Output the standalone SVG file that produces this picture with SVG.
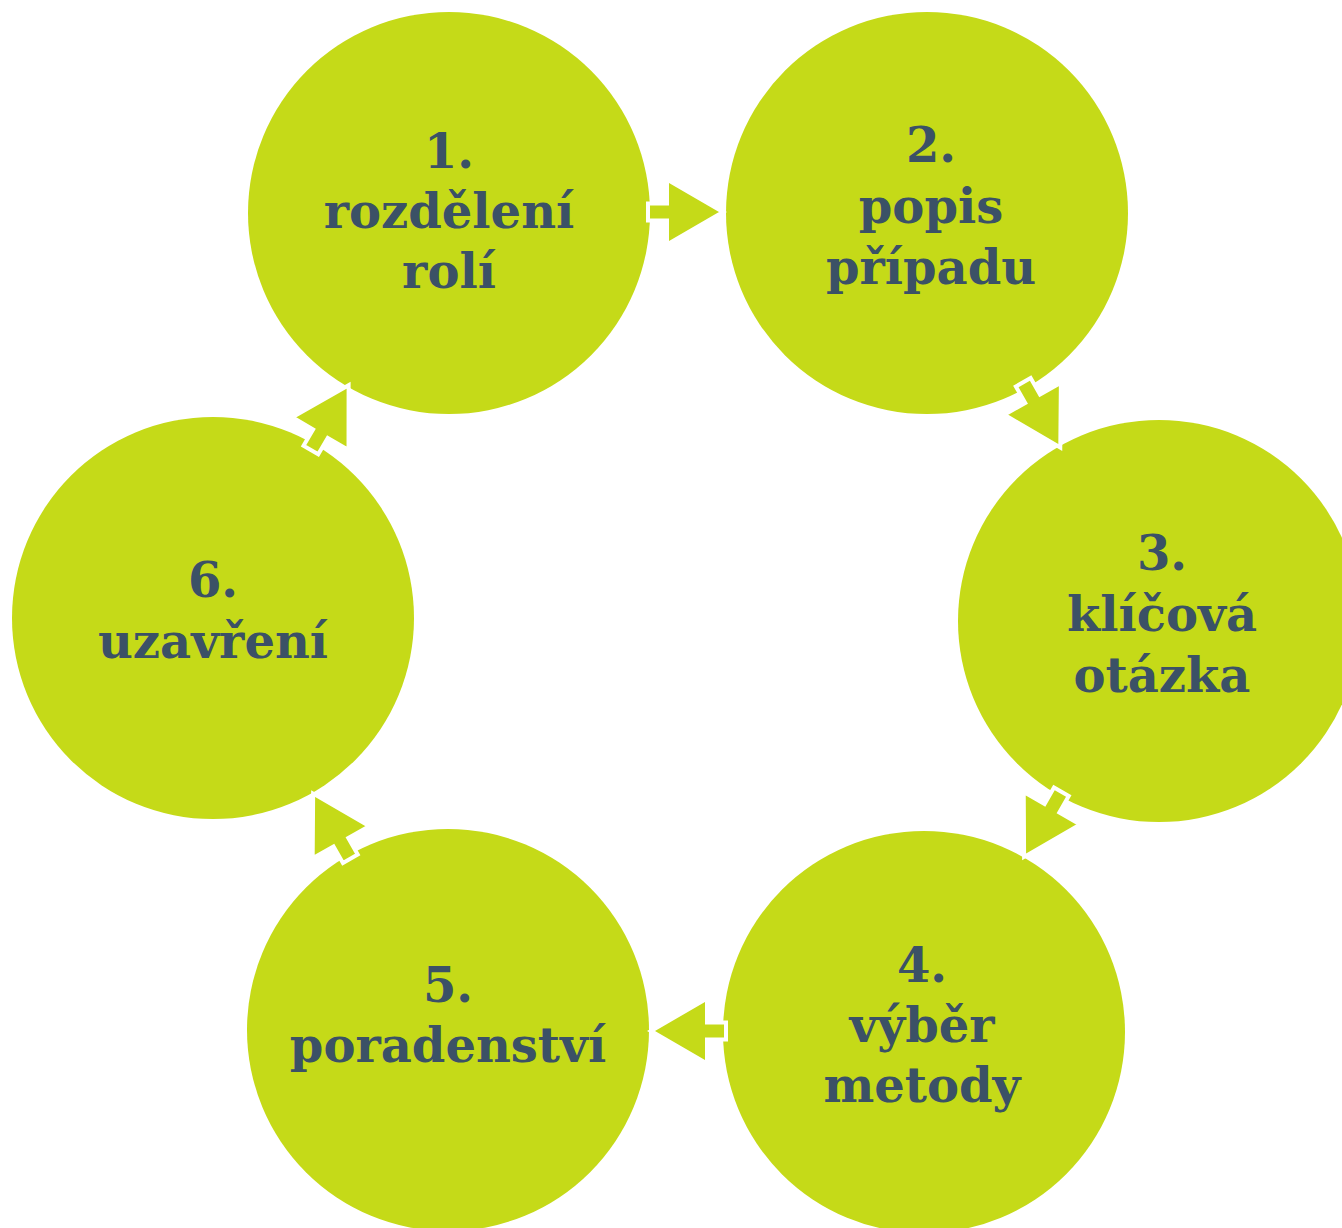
<svg xmlns="http://www.w3.org/2000/svg" width="1342" height="1228" viewBox="0 0 1342 1228">
<defs>
<style>
.c{fill:#c5da18}
.t{font-family:"DejaVu Serif",serif;font-weight:bold;font-size:48px;fill:#3b5166;text-anchor:middle}
.a{fill:#c5da18;stroke:#ffffff;stroke-width:4;stroke-linejoin:miter}
</style>
<path id="arr" d="M-40,-8.5 L-21,-8.5 L-21,-32.5 L35,0 L-21,32.5 L-21,8.5 L-40,8.5 Z"/>
</defs>
<rect width="1342" height="1228" fill="#ffffff"/>
<g id="node1"><circle class="c" cx="449" cy="213" r="201"/>
<text class="t" x="449" y="168">1.</text><text class="t" x="449" y="228">rozdělení</text><text class="t" x="449" y="288">rolí</text></g>
<g id="node2"><circle class="c" cx="927" cy="213" r="201"/>
<text class="t" x="931" y="162">2.</text><text class="t" x="931" y="223">popis</text><text class="t" x="931" y="284">případu</text></g>
<g id="node3"><circle class="c" cx="1159" cy="621" r="201"/>
<text class="t" x="1162" y="570">3.</text><text class="t" x="1162" y="631">klíčová</text><text class="t" x="1162" y="692">otázka</text></g>
<g id="node4"><circle class="c" cx="924" cy="1032" r="201"/>
<text class="t" x="922" y="982">4.</text><text class="t" x="922" y="1042">výběr</text><text class="t" x="922" y="1102">metody</text></g>
<g id="node5"><circle class="c" cx="448" cy="1030" r="201"/>
<text class="t" x="448" y="1002">5.</text><text class="t" x="448" y="1062">poradenství</text></g>
<g id="node6"><circle class="c" cx="213" cy="618" r="201"/>
<text class="t" x="213" y="597">6.</text><text class="t" x="213" y="658">uzavření</text></g>
<g id="connectors">
<use href="#arr" class="a" transform="translate(688,212)"/>
<use href="#arr" class="a" transform="translate(1043,417) rotate(60.4)"/>
<use href="#arr" class="a" transform="translate(1041.5,826.5) rotate(119.8)"/>
<use href="#arr" class="a" transform="translate(686,1031) rotate(180)"/>
<use href="#arr" class="a" transform="translate(330.5,824) rotate(240.3)"/>
<use href="#arr" class="a" transform="translate(331,415.5) rotate(300.2)"/>
</g>
</svg>
